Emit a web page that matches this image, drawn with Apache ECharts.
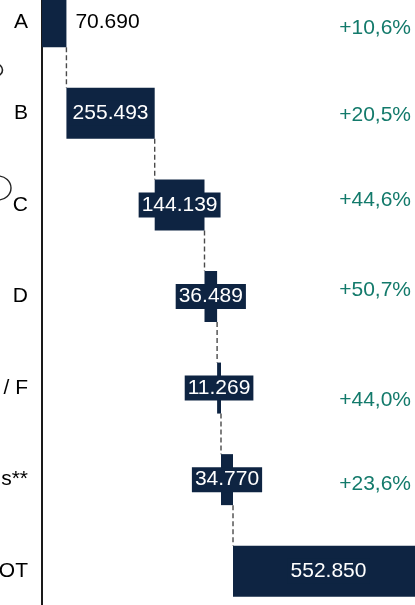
<!DOCTYPE html>
<html>
<head>
<meta charset="utf-8">
<style>
  html, body { margin: 0; padding: 0; background: #ffffff; }
  #chart { width: 415px; height: 605px; }
</style>
<script src="https://cdn.jsdelivr.net/npm/echarts@6/dist/echarts.min.js"></script>
</head>
<body>
<div id="chart"></div>
<script>
// Waterfall: contributions per segment, stacking up to the total
const categories = ['A', 'B', 'C', 'D', '/ F', 's**', 'OT'];
const values = [70690, 255493, 144139, 36489, 11269, 34770, 552850];
const growth = ['+10,6%', '+20,5%', '+44,6%', '+50,7%', '+44,0%', '+23,6%', ''];

const NAVY = '#0e2442';
const GREEN = '#137a6b';
const FONT = '"Liberation Sans", Arial, sans-serif';
const FS = 21;
const BAR_H = 51;

// running start of each step; the total bar starts where the steps end
const bases = [];
let run = 0;
values.forEach(function (v, i) {
  bases.push(run);
  if (i < values.length - 1) run += v;
});
const ends = values.map(function (v, i) { return bases[i] + v; });

function fmt(v) {
  return String(v).replace(/\B(?=(\d{3})+(?!\d))/g, '.');
}

// small vertical nudges for the growth annotations
const growthNudge = [6, 2, -5, -6, 12, 5, 0];

const chart = echarts.init(document.getElementById('chart'), null, { renderer: 'canvas' });

chart.setOption({
  animation: false,
  backgroundColor: '#ffffff',
  grid: {
    left: 42, top: -24, width: 414.6, height: 641,
    containLabel: false, outerBoundsMode: 'none'
  },
  xAxis: {
    type: 'value', min: 0, max: 1200000, show: false
  },
  yAxis: {
    type: 'category',
    inverse: true,
    data: categories,
    axisLine: { show: true, lineStyle: { color: '#1a1a1a', width: 2 } },
    axisTick: { show: false },
    axisLabel: { color: '#000', fontSize: FS, fontFamily: FONT, margin: 14 },
    splitLine: { show: false }
  },
  graphic: [
    { type: 'ellipse', shape: { cx: -4, cy: 70, rx: 6.5, ry: 6 },
      style: { fill: 'none', stroke: '#222', lineWidth: 1.6 } },
    { type: 'ellipse', shape: { cx: -2, cy: 188, rx: 13, ry: 12 },
      style: { fill: 'none', stroke: '#222', lineWidth: 1.4 } }
  ],
  series: [
    {
      name: 'base', type: 'bar', stack: 'w', barWidth: BAR_H, silent: true,
      itemStyle: { color: 'transparent' },
      data: bases
    },
    {
      name: 'value', type: 'bar', stack: 'w', barWidth: BAR_H,
      itemStyle: { color: NAVY },
      label: {
        show: true, position: 'inside', color: '#ffffff', fontSize: FS, fontFamily: FONT,
        backgroundColor: NAVY, padding: [2, 3],
        formatter: function (p) { return fmt(values[p.dataIndex]); }
      },
      data: values.map(function (v, i) {
        if (i === 0) {
          return {
            value: v,
            label: { position: 'right', distance: 9, color: '#000', backgroundColor: 'transparent', padding: 0 }
          };
        }
        return v;
      })
    },
    {
      // dashed connectors between consecutive bars
      name: 'connector', type: 'custom', silent: true,
      data: ends.slice(0, ends.length - 1).map(function (e, i) { return [e, i]; }),
      renderItem: function (params, api) {
        const x = api.value(0);
        const i = api.value(1);
        const p1 = api.coord([x, i]);
        const p2 = api.coord([x, i + 1]);
        return {
          type: 'line',
          shape: { x1: p1[0], y1: p1[1] + BAR_H / 2, x2: p2[0], y2: p2[1] - BAR_H / 2 },
          style: { stroke: '#4a4a4a', lineWidth: 1.4, lineDash: [5, 3] }
        };
      },
      z: 1
    },
    {
      // growth annotations at the right edge
      name: 'growth', type: 'custom', silent: true,
      data: growth.map(function (g, i) { return [0, i]; }),
      renderItem: function (params, api) {
        const i = api.value(1);
        const p = api.coord([0, i]);
        return {
          type: 'text',
          x: api.getWidth() - 4,
          y: p[1] + growthNudge[i],
          style: {
            text: growth[i], fill: GREEN, fontSize: FS, fontFamily: FONT,
            align: 'right', verticalAlign: 'middle'
          }
        };
      }
    }
  ]
});
</script>
</body>
</html>
